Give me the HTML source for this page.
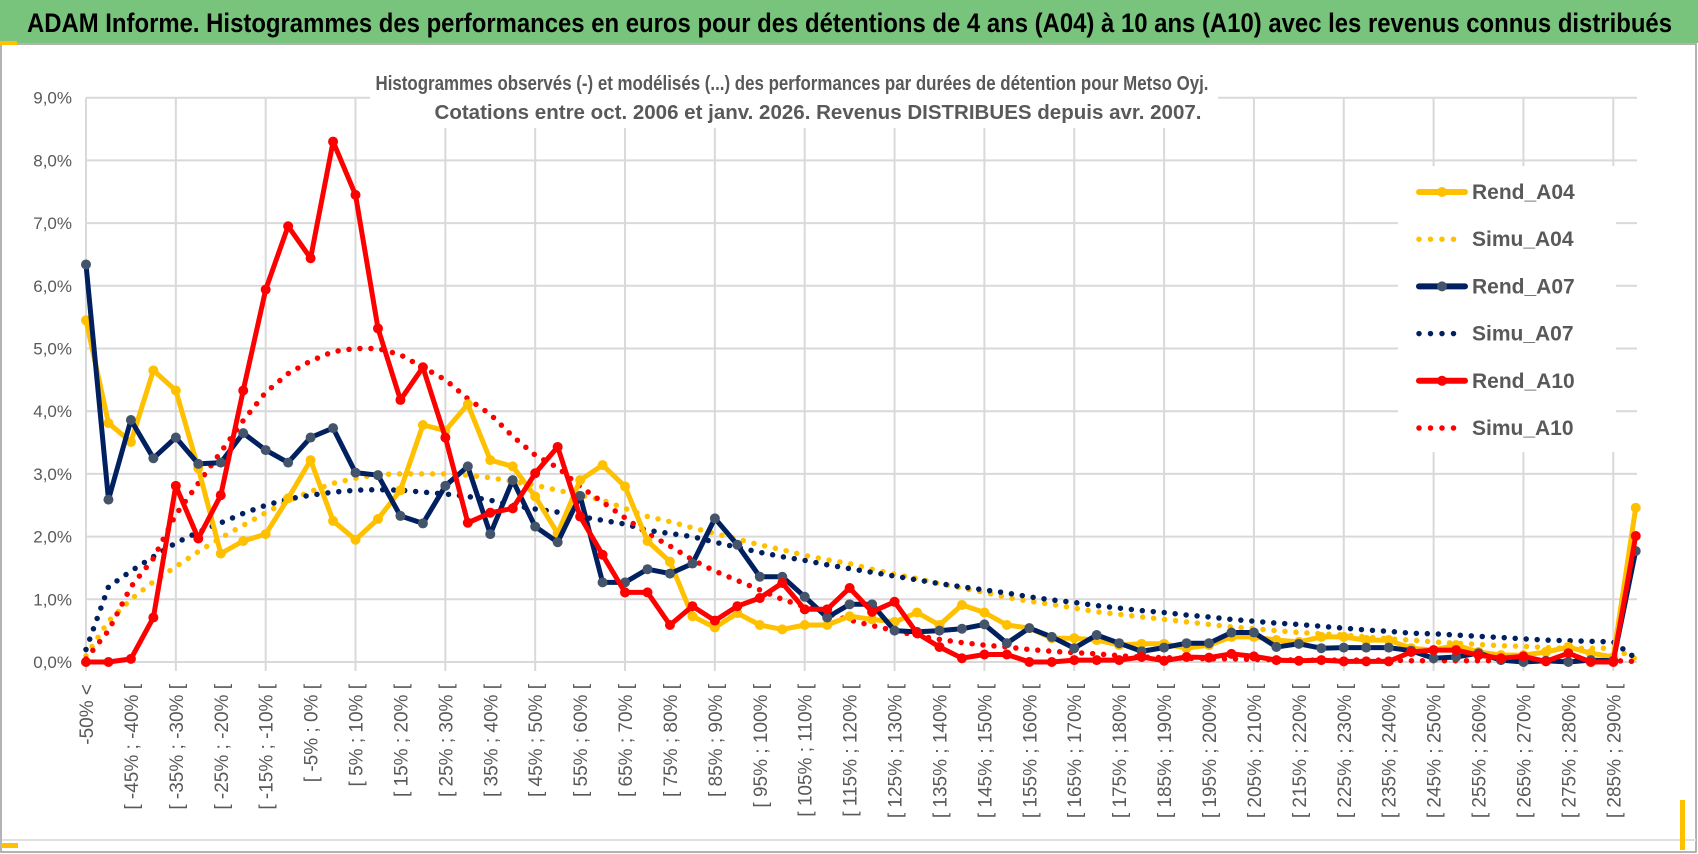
<!DOCTYPE html>
<html><head><meta charset="utf-8"><style>
html,body{margin:0;padding:0;background:#fff;width:1698px;height:854px;overflow:hidden}
svg{display:block}
text{font-family:"Liberation Sans Narrow","Liberation Sans",sans-serif}
</style></head><body>
<svg id="chart" width="1698" height="854" viewBox="0 0 1698 854">
<rect x="0" y="0" width="1698" height="854" fill="#fff"/>
<rect x="1" y="44" width="1695" height="808" fill="none" stroke="#9a9a9a" stroke-width="1.5"/>
<line x1="2" y1="840" x2="1696" y2="840" stroke="#e0e0e0" stroke-width="2"/>
<rect x="0" y="0" width="1698" height="43" fill="#79c47c"/>
<rect x="0" y="41" width="17" height="4" fill="#ffc000"/>
<rect x="1" y="843" width="17" height="5" fill="#ffc000"/>
<rect x="1680" y="800" width="5" height="50" fill="#ffc000"/>
<text x="27" y="32" font-size="27" font-weight="bold" fill="#000" textLength="1645" lengthAdjust="spacingAndGlyphs">ADAM Informe. Histogrammes des performances en euros pour des détentions de 4 ans (A04) à 10 ans (A10) avec les revenus connus distribués</text>
<g id="grid"></g>
<rect x="370" y="66" width="848" height="62" fill="#fff"/>
<text x="792" y="90" font-size="20" font-weight="bold" fill="#595959" text-anchor="middle" textLength="833" lengthAdjust="spacingAndGlyphs">Histogrammes observés (-) et modélisés (...) des performances par durées de détention pour Metso Oyj.</text>
<text x="818" y="119" font-size="20" font-weight="bold" fill="#595959" text-anchor="middle" textLength="767" lengthAdjust="spacingAndGlyphs">Cotations entre oct. 2006 et janv. 2026. Revenus DISTRIBUES depuis avr. 2007.</text>
<g id="yaxis"></g>
<g id="xaxis"></g>
<g id="series"></g>
<rect x="1398" y="166" width="218" height="286" fill="#fff"/>
<g id="legend"></g>
</svg>
<script>
const categories = [];
const rendA04 = [5.45,3.81,3.51,4.65,4.33,3.09,1.73,1.93,2.04,2.61,3.22,2.25,1.95,2.28,2.74,3.78,3.69,4.11,3.22,3.12,2.64,2.05,2.9,3.14,2.8,1.93,1.6,0.73,0.55,0.78,0.59,0.52,0.59,0.59,0.73,0.68,0.64,0.79,0.59,0.91,0.79,0.59,0.54,0.38,0.38,0.35,0.27,0.29,0.29,0.22,0.27,0.4,0.4,0.35,0.32,0.4,0.4,0.35,0.35,0.22,0.19,0.27,0.16,0.11,0.11,0.16,0.24,0.14,0.08,2.46];
const simuA04 = [0.1,0.65,1.0,1.28,1.52,1.76,1.98,2.18,2.38,2.57,2.72,2.85,2.93,2.99,3.0,3.0,3.0,2.98,2.94,2.88,2.82,2.74,2.66,2.58,2.45,2.32,2.24,2.14,2.05,1.96,1.87,1.79,1.7,1.63,1.57,1.48,1.4,1.33,1.25,1.18,1.11,1.03,0.97,0.92,0.86,0.8,0.76,0.72,0.68,0.64,0.6,0.56,0.53,0.5,0.47,0.45,0.43,0.4,0.37,0.35,0.32,0.3,0.28,0.26,0.25,0.23,0.22,0.22,0.22,0.05];
const rendA07 = [6.34,2.59,3.86,3.25,3.58,3.16,3.18,3.65,3.38,3.18,3.58,3.73,3.02,2.98,2.33,2.21,2.81,3.12,2.04,2.9,2.16,1.91,2.65,1.27,1.27,1.48,1.41,1.57,2.29,1.87,1.36,1.36,1.04,0.71,0.92,0.92,0.5,0.48,0.5,0.53,0.6,0.3,0.54,0.4,0.22,0.43,0.3,0.17,0.23,0.3,0.3,0.47,0.47,0.24,0.29,0.22,0.23,0.23,0.23,0.18,0.06,0.08,0.14,0.03,0,0.02,0,0.03,0.02,1.77];
const simuA07 = [0.2,1.2,1.45,1.68,1.9,2.07,2.22,2.37,2.5,2.6,2.66,2.71,2.74,2.75,2.74,2.71,2.68,2.64,2.58,2.5,2.44,2.39,2.32,2.26,2.2,2.1,2.05,2.0,1.91,1.83,1.75,1.68,1.62,1.55,1.49,1.43,1.37,1.31,1.25,1.2,1.15,1.1,1.04,0.99,0.95,0.9,0.86,0.82,0.79,0.75,0.72,0.68,0.65,0.62,0.6,0.57,0.54,0.51,0.49,0.46,0.45,0.43,0.41,0.39,0.37,0.35,0.34,0.33,0.32,0.06];
const rendA10 = [0,0,0.05,0.71,2.81,1.97,2.66,4.33,5.94,6.95,6.44,8.3,7.45,5.32,4.18,4.7,3.58,2.22,2.38,2.45,3.01,3.43,2.32,1.71,1.11,1.11,0.59,0.89,0.66,0.89,1.02,1.26,0.84,0.84,1.18,0.8,0.96,0.46,0.24,0.06,0.12,0.12,0,0,0.03,0.03,0.03,0.08,0.02,0.08,0.07,0.13,0.09,0.03,0.02,0.03,0.01,0.01,0.01,0.16,0.19,0.19,0.11,0.06,0.09,0.01,0.14,0,0,2.01];
const simuA10 = [0.05,0.5,1.2,1.65,2.35,2.85,3.35,3.85,4.3,4.6,4.8,4.95,5.0,5.0,4.9,4.7,4.5,4.2,3.95,3.6,3.3,3.1,2.8,2.55,2.3,2.05,1.85,1.63,1.45,1.3,1.15,1.0,0.88,0.77,0.67,0.58,0.5,0.42,0.36,0.31,0.27,0.24,0.2,0.17,0.15,0.13,0.1,0.08,0.07,0.06,0.05,0.05,0.04,0.04,0.03,0.03,0.03,0.03,0.03,0.02,0.02,0.02,0.02,0.02,0.02,0.02,0.02,0.02,0.02,0.01];
const yTicks = [0,1,2,3,4,5,6,7,8,9];
const yTickLabels = ["0,0%","1,0%","2,0%","3,0%","4,0%","5,0%","6,0%","7,0%","8,0%","9,0%"];

categories.push("-50% <");
for (let i = 1; i <= 68; i++) categories.push("[ " + (-50 + 5*(i-1)) + "% ; " + (-45 + 5*(i-1)) + "% [");
categories.push("> 290%");

const NS = "http://www.w3.org/2000/svg";
const X0 = 86, DX = 22.46, Y0 = 662, DY = 62.7, XR = 1637;
function xPos(i){ return X0 + i*DX; }
function yPos(v){ return Y0 - v*DY; }
function mk(tag, attrs, parent){ const e = document.createElementNS(NS, tag); for (const k in attrs) e.setAttribute(k, attrs[k]); parent.appendChild(e); return e; }

const grid = document.getElementById('grid');
yTicks.forEach(function(t){
  const l = mk('line', {x1:X0, x2:XR, y1:yPos(t), y2:yPos(t), stroke:'#d9d9d9', 'stroke-width':2}, grid);
  
  
});
for (let k = 0; k * 4 < categories.length; k++) {
  const x = xPos(k*4);
  const l = mk('line', {x1:x, x2:x, y1:yPos(9), y2:Y0+9, stroke:'#d9d9d9', 'stroke-width':2}, grid);
  
  
}

const yaxis = document.getElementById('yaxis');
yTicks.forEach(function(t, j){
  const tx = mk('text', {x:72, y:yPos(t)+6, 'font-size':17, fill:'#595959', 'text-anchor':'end'}, yaxis);
  tx.textContent = yTickLabels[j];
  
  
});

const xaxis = document.getElementById('xaxis');
categories.forEach(function(c, i){
  if (i % 2 !== 0 || i > 68) return;
  const x = xPos(i) + 7;
  const tx = mk('text', {x:x, y:684, 'font-size':19, fill:'#595959', 'text-anchor':'end', transform:'rotate(-90 '+x+' 684)'}, xaxis);
  tx.textContent = c;
  
  
});

const series = document.getElementById('series');
function dotted(vals, color, name){
  const pts = vals.map(function(v,i){ return xPos(i).toFixed(1)+','+yPos(v).toFixed(1); }).join(' ');
  const p = mk('polyline', {points:pts, fill:'none', stroke:color, 'stroke-width':5.5, 'stroke-linecap':'round', 'stroke-dasharray':'0 11'}, series);
  
  
}
function solid(vals, color, mcolor, name){
  const pts = vals.map(function(v,i){ return xPos(i).toFixed(1)+','+yPos(v).toFixed(1); }).join(' ');
  const p = mk('polyline', {points:pts, fill:'none', stroke:color, 'stroke-width':5, 'stroke-linejoin':'round'}, series);
  
  
  vals.forEach(function(v,i){
    const c = mk('circle', {cx:xPos(i), cy:yPos(v), r:5, fill:mcolor}, series);
    
    
  });
}
dotted(simuA04, '#ffc000', 'simu-a04-line');
dotted(simuA07, '#002060', 'simu-a07-line');
dotted(simuA10, '#ff0000', 'simu-a10-line');
solid(rendA04, '#ffc000', '#ffc000', 'rend-a04-line');
solid(rendA07, '#002060', '#44546a', 'rend-a07-line');
solid(rendA10, '#ff0000', '#ff0000', 'rend-a10-line');

const legendNames = ["Rend_A04","Simu_A04","Rend_A07","Simu_A07","Rend_A10","Simu_A10"];
const legendColors = ['#ffc000','#ffc000','#002060','#002060','#ff0000','#ff0000'];
const legendMarkers = ['#ffc000',null,'#44546a',null,'#ff0000',null];
const legend = document.getElementById('legend');
legendNames.forEach(function(n, j){
  const y = 192 + j*47.2;
  const g = mk('g', {}, legend);
  
  
  if (legendMarkers[j]) {
    mk('line', {x1:1419, x2:1465, y1:y, y2:y, stroke:legendColors[j], 'stroke-width':6, 'stroke-linecap':'round'}, g);
    mk('circle', {cx:1442, cy:y, r:5, fill:legendMarkers[j]}, g);
  } else {
    mk('line', {x1:1419, x2:1465, y1:y, y2:y, stroke:legendColors[j], 'stroke-width':5.5, 'stroke-linecap':'round', 'stroke-dasharray':'0 11.5'}, g);
  }
  const t = mk('text', {x:1472, y:y+7, 'font-size':21, 'font-weight':'bold', fill:'#595959'}, g);
  t.textContent = n;
});
</script>
</body></html>
